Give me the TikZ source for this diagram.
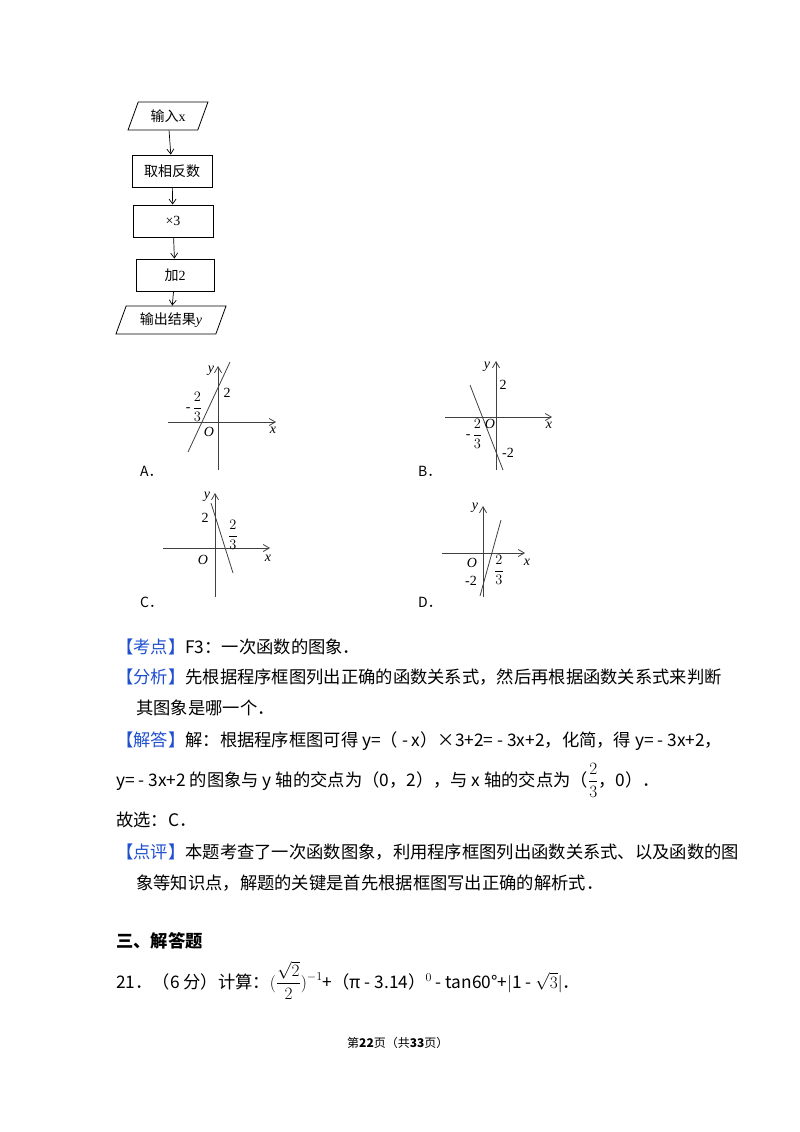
\documentclass[tikz,border=0pt]{standalone}
\usepackage{fontspec}
\setmainfont{Noto Sans CJK SC}
\newfontfamily\ser{Liberation Serif}
\usetikzlibrary{arrows.meta,shapes.geometric}
\definecolor{kblue}{HTML}{2050D0}
\newcommand{\fr}[2]{$\displaystyle\frac{#1}{#2}$}
\begin{document}
\begin{tikzpicture}[x=1pt,y=-1pt,
  fbox/.style={draw,line width=0.8pt,minimum width=80pt,minimum height=32pt,font=\fontsize{14}{14}\selectfont},
  para/.style={draw,line width=0.8pt,trapezium,trapezium left angle=70,trapezium right angle=110,minimum height=28pt,font=\fontsize{14}{14}\selectfont},
  farr/.style={-{Straight Barb[length=5pt,width=7pt]},line width=0.7pt},
  ax/.style={-{Straight Barb[length=6pt,width=7pt]},line width=0.8pt,draw=black!75},
  gl/.style={line width=0.8pt,draw=black!75},
  lab/.style={font=\ser\fontsize{14}{14}\selectfont\itshape,inner sep=0pt},
  num/.style={font=\ser\fontsize{14}{14}\selectfont,inner sep=0pt},
  txt/.style={anchor=base west,inner sep=0pt,font=\fontsize{17.3}{18}\selectfont},
  kb/.style={text=kblue}]
\useasboundingbox (0,0) rectangle (800,1132);
% flowchart
\node[para,minimum width=58pt] (in) at (168,116) {输入{\ser x}};
\node[fbox] (b1) at (172,171) {取相反数};
\node[fbox] (b2) at (173,221) {{\ser ×3}};
\node[fbox,minimum width=78pt] (b3) at (175,275) {加{\ser 2}};
\node[para,minimum width=95pt] (out) at (171,320) {输出结果{\ser\itshape y}};
\draw[farr] (in) -- (b1);
\draw[farr] (b1) -- (b2);
\draw[farr] (b2) -- (b3);
\draw[farr] (b3) -- (out);
% graph A
\coordinate (ax1) at (168,422); \coordinate (ax2) at (276,422);
\coordinate (ay1) at (218,470); \coordinate (ay2) at (218,366);
\draw[ax] (ax1) -- (ax2); \draw[ax] (ay1) -- (ay2);
\coordinate (la1) at (188,452); \coordinate (la2) at (230,362);
\draw[gl] (la1) -- (la2);
\node[lab] (Ay) at (211,371) {y};
\node[num] (A2) at (227,393) {2};
\node[num] (Af) at (194,407) {-\,\fr{2}{3}};
\node[lab] (AO) at (209,432) {O};
\node[lab] (Ax) at (273,430) {x};
% graph B
\coordinate (bx1) at (445,417); \coordinate (bx2) at (552,417);
\coordinate (by1) at (496,470); \coordinate (by2) at (496,361);
\draw[ax] (bx1) -- (bx2); \draw[ax] (by1) -- (by2);
\coordinate (lb1) at (470,385); \coordinate (lb2) at (503,470);
\draw[gl] (lb1) -- (lb2);
\node[lab] (By) at (487,367) {y};
\node[num] (B2) at (503,385) {2};
\node[num] (Bf) at (474,434) {-\,\fr{2}{3}};
\node[lab] (BO) at (490,424) {O};
\node[num] (Bm) at (508,453) {-2};
\node[lab] (Bx) at (549,425) {x};
% graph C
\coordinate (cx1) at (163,548); \coordinate (cx2) at (270,548);
\coordinate (cy1) at (215,597); \coordinate (cy2) at (215,493);
\draw[ax] (cx1) -- (cx2); \draw[ax] (cy1) -- (cy2);
\coordinate (lc1) at (211,503); \coordinate (lc2) at (233,573);
\draw[gl] (lc1) -- (lc2);
\node[lab] (Cy) at (207,497) {y};
\node[num] (C2) at (205,518) {2};
\node[num] (Cf) at (233,535) {\fr{2}{3}};
\node[lab] (CO) at (203,560) {O};
\node[lab] (Cx) at (268,558) {x};
% graph D
\coordinate (dx1) at (442,553); \coordinate (dx2) at (525,553);
\coordinate (dy1) at (483,597); \coordinate (dy2) at (483,506);
\draw[ax] (dx1) -- (dx2); \draw[ax] (dy1) -- (dy2);
\coordinate (ld1) at (480,596); \coordinate (ld2) at (501,520);
\draw[gl] (ld1) -- (ld2);
\node[lab] (Dy) at (475,508) {y};
\node[lab] (DO) at (472,563) {O};
\node[num] (Df) at (499,570) {\fr{2}{3}};
\node[num] (Dm) at (471,581) {-2};
\node[lab] (Dx) at (527,562) {x};
% option labels
\node[txt,font=\fontsize{14}{14}\selectfont] (oA) at (140,476) {A．};
\node[txt,font=\fontsize{14}{14}\selectfont] (oB) at (418,476) {B．};
\node[txt,font=\fontsize{14}{14}\selectfont] (oC) at (140,607) {C．};
\node[txt,font=\fontsize{14}{14}\selectfont] (oD) at (418,607) {D．};
% text
\node[txt] (t1) at (116,653) {{\color{kblue}【考点】}F3：一次函数的图象．};
\node[txt] (t2) at (116,683) {{\color{kblue}【分析】}先根据程序框图列出正确的函数关系式，然后再根据函数关系式来判断};
\node[txt] (t3) at (136,714) {其图象是哪一个．};
\node[txt] (t4) at (116,746) {{\color{kblue}【解答】}解：根据程序框图可得 y=（ - x）×3+2= - 3x+2，化简，得 y= - 3x+2，};
\node[txt] (t5) at (116,786) {y= - 3x+2 的图象与 y 轴的交点为（0，2），与 x 轴的交点为（\fr{2}{3}，0）．};
\node[txt] (t6) at (116,826) {故选：C．};
\node[txt] (t7) at (116,858) {{\color{kblue}【点评】}本题考查了一次函数图象，利用程序框图列出函数关系式、以及函数的图};
\node[txt] (t8) at (136,889) {象等知识点，解题的关键是首先根据框图写出正确的解析式．};
\node[txt,font=\bfseries\fontsize{17.3}{18}\selectfont] (t9) at (116,947) {三、解答题};
\node[txt] (t10) at (116,988) {21．（6 分）计算：$\displaystyle(\frac{\sqrt{2}}{2})^{-1}$+（π - 3.14）$^{0}$ - tan60°+$|$1 - $\sqrt{3}|$．};
\node[txt,font=\fontsize{12}{12}\selectfont] (ft) at (347,1047) {第{\bfseries 22}页（共{\bfseries 33}页）};
\end{tikzpicture}
\end{document}
